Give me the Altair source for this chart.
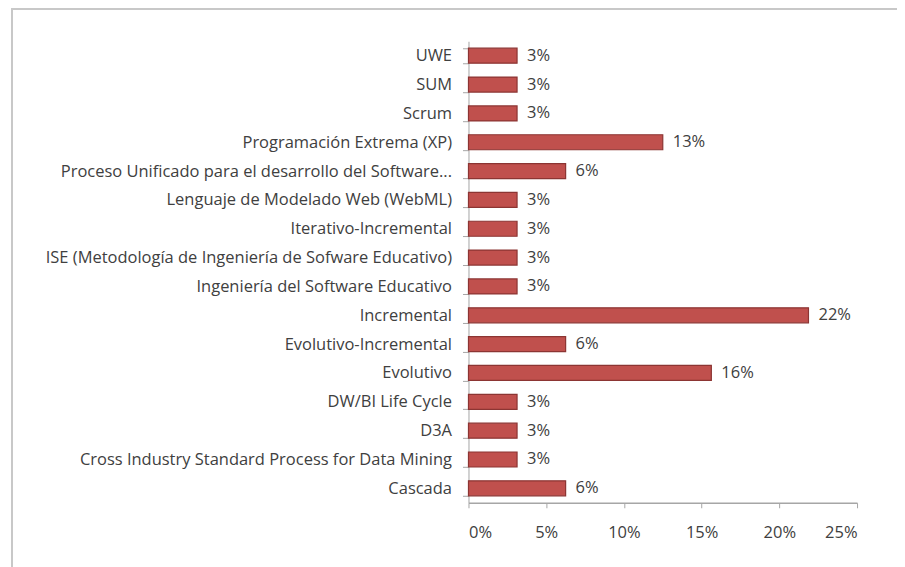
import altair as alt
import pandas as pd

categorias = [
    "UWE",
    "SUM",
    "Scrum",
    "Programación Extrema (XP)",
    "Proceso Unificado para el desarrollo del Software...",
    "Lenguaje de Modelado Web (WebML)",
    "Iterativo-Incremental",
    "ISE (Metodología de Ingeniería de Sofware Educativo)",
    "Ingeniería del Software Educativo",
    "Incremental",
    "Evolutivo-Incremental",
    "Evolutivo",
    "DW/BI Life Cycle",
    "D3A",
    "Cross Industry Standard Process for Data Mining",
    "Cascada",
]
valores = [0.03125, 0.03125, 0.03125, 0.125, 0.0625, 0.03125, 0.03125, 0.03125,
           0.03125, 0.21875, 0.0625, 0.15625, 0.03125, 0.03125, 0.03125, 0.0625]
etiquetas = ["3%", "3%", "3%", "13%", "6%", "3%", "3%", "3%",
             "3%", "22%", "6%", "16%", "3%", "3%", "3%", "6%"]
ticks_x = [0, 0.05, 0.10, 0.15, 0.20, 0.25]

df = pd.DataFrame({"cat": categorias, "val": valores, "lab": etiquetas})

FONT = "Open Sans"
FS = 16.5
TXT = "#404040"

y_enc = alt.Y("cat:N", sort=categorias, title=None,
              scale=alt.Scale(paddingInner=0.48, paddingOuter=0.24),
              axis=alt.Axis(labelFont=FONT, labelFontSize=FS, labelColor=TXT,
                            labelLimit=460, tickBand="extent", tickSize=6,
                            tickColor="#A6A6A6", domainColor="#A6A6A6",
                            labelPadding=11))
x_enc = alt.X("val:Q", title=None,
              scale=alt.Scale(domain=[0, 0.25], nice=False),
              axis=alt.Axis(values=ticks_x, format=".0%", labelFont=FONT,
                            labelFontSize=FS, labelColor=TXT, grid=False,
                            tickSize=5, tickColor="#A6A6A6", domainColor="#A6A6A6",
                            labelPadding=17, domainWidth=1.5))

bars = alt.Chart(df).mark_bar(color="#C0504D", stroke="#8C3533", strokeWidth=1.2).encode(
    y=y_enc, x=x_enc)

text = alt.Chart(df).mark_text(align="left", dx=10, font=FONT, fontSize=FS,
                                color=TXT).encode(
    y=alt.Y("cat:N", sort=categorias), x="val:Q", text="lab:N")

frame_top = alt.Chart(df).mark_rule(color="#C8C8C8", strokeWidth=2).encode(
    x=alt.value(-457), x2=alt.value(470), y=alt.value(-33))
frame_left = alt.Chart(df).mark_rule(color="#C8C8C8", strokeWidth=2).encode(
    x=alt.value(-457), y=alt.value(-33), y2=alt.value(540))

chart = alt.layer(frame_top, frame_left, bars, text).properties(
    width=389, height=462,
    padding={"left": 461, "top": 33, "right": 40, "bottom": 70},
    autosize=alt.AutoSizeParams(type="none"),
    background="white",
).configure_view(stroke=None)

chart.save("out.html", embed_options={"renderer": "svg", "actions": False})
